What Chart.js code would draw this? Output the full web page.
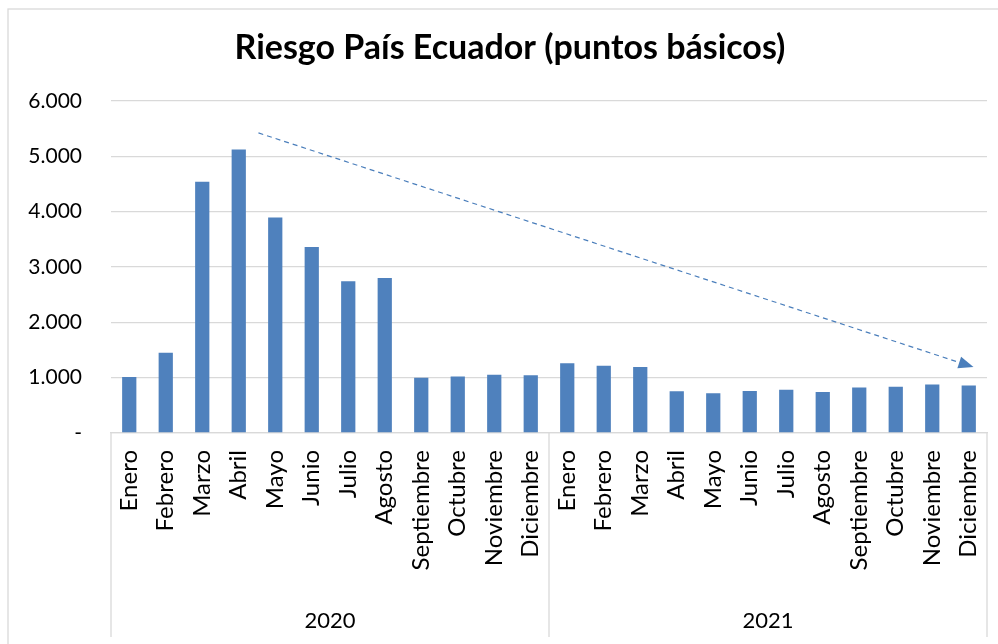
<!DOCTYPE html>
<html lang="es">
<head>
<meta charset="utf-8">
<title>Riesgo País Ecuador</title>
<script src="https://cdn.jsdelivr.net/npm/chart.js@4.4.1/dist/chart.umd.min.js"></script>
<style>
    body { margin: 0; background: #fff; }
    #contenedor { width: 998px; height: 644px; position: relative; }
</style>
</head>
<body>
<div id="contenedor"><canvas id="myChart"></canvas></div>
<script>
// Datos del gráfico
var meses = ['Enero', 'Febrero', 'Marzo', 'Abril', 'Mayo', 'Junio', 'Julio', 'Agosto',
    'Septiembre', 'Octubre', 'Noviembre', 'Diciembre'];
var anios = ['2020', '2021'];
var valores2020 = [1010, 1450, 4540, 5120, 3890, 3360, 2740, 2800, 1000, 1020, 1050, 1045];
var valores2021 = [1260, 1215, 1190, 755, 720, 760, 780, 740, 820, 835, 875, 860];
var ticksY = [0, 1000, 2000, 3000, 4000, 5000, 6000];

// Flecha de tendencia (índice de categoría, puntos básicos)
var flechaDesde = [3.54, 5420];
var flechaHasta = [23.13, 1190];

var etiquetas = meses.concat(meses);
var valores = valores2020.concat(valores2021);

var gris = '#d9d9d9';
var azul = '#4f81bd';

// Formato con punto de miles, cero como guion
function formatoMiles(v) {
    if (v === 0) return '-';
    return String(v).replace(/\B(?=(\d{3})+(?!\d))/g, '.');
}

// Sin relleno extra a los lados de los ejes horizontales
function sinRelleno(scale) {
    scale.paddingLeft = 0;
    scale.paddingRight = 0;
}

// Marco exterior, título centrado y líneas que separan los años
var marcoPlugin = {
    id: 'marco',
    afterLayout: function (chart) {
        // el título va centrado un poco más a la derecha
        if (chart.titleBlock) chart.titleBlock.left += 33;
    },
    beforeDraw: function (chart) {
        var ctx = chart.ctx;
        ctx.save();
        ctx.fillStyle = '#fff';
        ctx.fillRect(0, 0, chart.width, chart.height);
        ctx.strokeStyle = gris;
        ctx.lineWidth = 1.3;
        ctx.strokeRect(8, 9, chart.width + 20, chart.height + 20);
        ctx.restore();
    },
    afterDraw: function (chart) {
        var ctx = chart.ctx;
        var x = chart.scales.x;
        var abajo = chart.scales.anio.bottom - 7;
        var medio = (x.getPixelForValue(11) + x.getPixelForValue(12)) / 2;
        ctx.save();
        ctx.strokeStyle = gris;
        ctx.lineWidth = 1.3;
        [x.left, medio, x.right].forEach(function (px) {
            ctx.beginPath();
            ctx.moveTo(px, chart.chartArea.bottom);
            ctx.lineTo(px, abajo);
            ctx.stroke();
        });
        ctx.restore();
    }
};

// Flecha punteada sobre las barras
var flechaPlugin = {
    id: 'flecha',
    afterDatasetsDraw: function (chart) {
        var ctx = chart.ctx;
        var x = chart.scales.x, y = chart.scales.y;
        var x1 = x.getPixelForValue(flechaDesde[0]), y1 = y.getPixelForValue(flechaDesde[1]);
        var x2 = x.getPixelForValue(flechaHasta[0]), y2 = y.getPixelForValue(flechaHasta[1]);
        var ang = Math.atan2(y2 - y1, x2 - x1);
        var largo = 15, ancho = 6;
        var bx = x2 - largo * Math.cos(ang), by = y2 - largo * Math.sin(ang);
        ctx.save();
        ctx.strokeStyle = '#4a7ebb';
        ctx.fillStyle = '#4a7ebb';
        ctx.lineWidth = 1.2;
        ctx.setLineDash([5, 4]);
        ctx.beginPath();
        ctx.moveTo(x1, y1);
        ctx.lineTo(bx, by);
        ctx.stroke();
        ctx.setLineDash([]);
        ctx.beginPath();
        ctx.moveTo(x2, y2);
        ctx.lineTo(bx + ancho * Math.sin(ang), by - ancho * Math.cos(ang));
        ctx.lineTo(bx - ancho * Math.sin(ang), by + ancho * Math.cos(ang));
        ctx.closePath();
        ctx.fill();
        ctx.restore();
    }
};

var ctx = document.getElementById('myChart').getContext('2d');
var myChart = new Chart(ctx, {
    type: 'bar',
    data: {
        labels: etiquetas,
        datasets: [{
            label: 'Riesgo País',
            data: valores,
            backgroundColor: azul,
            borderWidth: 0,
            barPercentage: 0.39,
            categoryPercentage: 1
        }]
    },
    options: {
        responsive: true,
        maintainAspectRatio: false,
        animation: false,
        layout: { padding: { top: 0, right: 11, bottom: 0, left: 0 } },
        plugins: {
            legend: { display: false },
            tooltip: { enabled: false },
            title: {
                display: true,
                text: 'Riesgo País Ecuador (puntos básicos)',
                color: '#000',
                font: { family: 'Lato', size: 34, weight: 'bold', lineHeight: 1.2 },
                padding: { top: 28, bottom: 32 }
            }
        },
        scales: {
            y: {
                min: 0,
                max: 6000,
                afterBuildTicks: function (scale) {
                    scale.ticks = ticksY.map(function (v) { return { value: v }; });
                },
                afterFit: function (scale) { scale.width = 111; },
                border: { display: false },
                grid: { color: gris, lineWidth: 1.3, drawTicks: false },
                ticks: {
                    color: '#000',
                    padding: 29,
                    font: { family: 'Lato', size: 21 },
                    callback: function (v) { return formatoMiles(v); }
                }
            },
            x: {
                position: 'bottom',
                afterFit: function (scale) { scale.height = 140; sinRelleno(scale); },
                border: { display: true, color: gris, width: 1.3 },
                grid: { display: false, drawTicks: false },
                ticks: {
                    color: '#000',
                    autoSkip: false,
                    minRotation: 90,
                    maxRotation: 90,
                    padding: 17,
                    font: { family: 'Lato', size: 24 }
                }
            },
            anio: {
                type: 'category',
                axis: 'x',
                position: 'bottom',
                labels: anios,
                offset: true,
                afterFit: function (scale) { scale.height = 71; sinRelleno(scale); },
                border: { display: false },
                grid: { display: false, drawTicks: false },
                ticks: {
                    color: '#000',
                    padding: 35,
                    font: { family: 'Lato', size: 22 }
                }
            }
        }
    },
    plugins: [marcoPlugin, flechaPlugin]
});
</script>
</body>
</html>
